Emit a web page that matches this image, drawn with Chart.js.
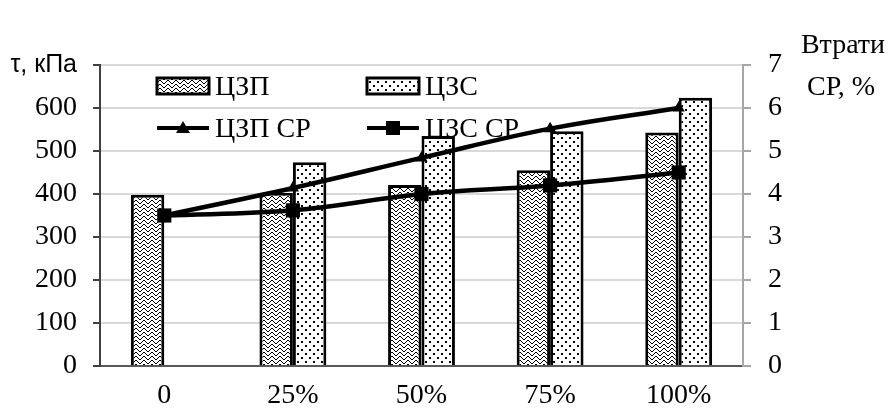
<!DOCTYPE html>
<html>
<head>
<meta charset="utf-8">
<script src="https://cdn.jsdelivr.net/npm/chart.js@4.4.0/dist/chart.umd.min.js"></script>
<style>
  html, body { margin: 0; padding: 0; background: #fff; }
  #wrap { width: 892px; height: 409px; }
</style>
</head>
<body>
<div id="wrap"><canvas id="chart" width="892" height="409"></canvas></div>
<script>
// Chart data
const categories = ['0', '25%', '50%', '75%', '100%'];
const czpShear = [398, 403, 421, 455, 543];      // ЦЗП, кПа
const czsShear = [null, 474, 535, 546, 624];     // ЦЗС, кПа
const czpLoss = [3.5, 4.14, 4.84, 5.52, 6.0];    // ЦЗП СР, %
const czsLoss = [3.5, 3.62, 4.0, 4.2, 4.5];      // ЦЗС СР, %
const leftTicks = [0, 100, 200, 300, 400, 500, 600, 700];
const rightTicks = [0, 1, 2, 3, 4, 5, 6, 7];

const serif = 'Liberation Serif';

// Fill patterns for the bars
function zigzagPattern() {
  const c = document.createElement('canvas');
  c.width = 8; c.height = 8;
  const g = c.getContext('2d');
  g.fillStyle = '#fff';
  g.fillRect(0, 0, 8, 8);
  g.fillStyle = '#000';
  for (let x = 0; x < 8; x++) {
    const y = x < 4 ? x : 7 - x;
    g.fillRect(x, y, 1, 1);
    g.fillRect(x, (y + 4) % 8, 1, 1);
  }
  return g.createPattern(c, 'repeat');
}

function dotPattern() {
  const c = document.createElement('canvas');
  c.width = 8; c.height = 8;
  const g = c.getContext('2d');
  g.fillStyle = '#fff';
  g.fillRect(0, 0, 8, 8);
  g.fillStyle = '#000';
  g.fillRect(1, 1, 2, 2);
  g.fillRect(5, 5, 2, 2);
  return g.createPattern(c, 'repeat');
}

const zigzag = zigzagPattern();
const dots = dotPattern();

// Legend drawn inside the plot area, two columns
const innerLegend = {
  id: 'innerLegend',
  beforeDatasetsDraw(chart) {
    const ctx = chart.ctx;
    ctx.save();
    ctx.font = '28px "' + serif + '"';
    ctx.fillStyle = '#000';
    ctx.textBaseline = 'middle';
    ctx.textAlign = 'left';

    const rows = [86, 128];
    const cols = [157, 367];

    // bar swatches
    [[zigzag, 0], [dots, 1]].forEach(([pat, i]) => {
      ctx.fillStyle = pat;
      ctx.fillRect(cols[i], rows[0] - 8, 52, 16);
      ctx.lineWidth = 3;
      ctx.strokeStyle = '#000';
      ctx.strokeRect(cols[i], rows[0] - 8, 52, 16);
    });
    ctx.fillStyle = '#000';
    ctx.fillText('ЦЗП', cols[0] + 58, rows[0] + 2);
    ctx.fillText('ЦЗС', cols[1] + 58, rows[0] + 2);

    // line swatches
    ctx.lineWidth = 4;
    cols.forEach((x, i) => {
      ctx.beginPath();
      ctx.moveTo(x, rows[1]);
      ctx.lineTo(x + 52, rows[1]);
      ctx.stroke();
      const cx = x + 26;
      if (i === 0) {
        ctx.beginPath();
        ctx.moveTo(cx, rows[1] - 7);
        ctx.lineTo(cx + 7, rows[1] + 5);
        ctx.lineTo(cx - 7, rows[1] + 5);
        ctx.closePath();
        ctx.fill();
      } else {
        ctx.fillRect(cx - 7, rows[1] - 7, 14, 14);
      }
    });
    ctx.fillText('ЦЗП СР', cols[0] + 58, rows[1] + 2);
    ctx.fillText('ЦЗС СР', cols[1] + 58, rows[1] + 2);
    ctx.restore();
  },
  afterDraw(chart) {
    // right axis title
    const ctx = chart.ctx;
    ctx.save();
    ctx.font = '28px "' + serif + '"';
    ctx.fillStyle = '#000';
    ctx.textAlign = 'center';
    ctx.textBaseline = 'alphabetic';
    ctx.fillText('Втрати', 843, 53);
    ctx.fillText('СР, %', 841, 95);
    ctx.restore();
  }
};

new Chart(document.getElementById('chart').getContext('2d'), {
  type: 'bar',
  data: {
    labels: categories,
    datasets: [
      {
        type: 'line',
        label: 'ЦЗП СР',
        data: czpLoss,
        yAxisID: 'y1',
        borderColor: '#000',
        backgroundColor: '#000',
        borderWidth: 4.5,
        tension: 0.4,
        pointStyle: 'triangle',
        pointRadius: 7,
        pointBorderWidth: 0,
        order: 0
      },
      {
        type: 'line',
        label: 'ЦЗС СР',
        data: czsLoss,
        yAxisID: 'y1',
        borderColor: '#000',
        backgroundColor: '#000',
        borderWidth: 4.5,
        tension: 0.4,
        pointStyle: 'rect',
        pointRadius: 10,
        pointBorderWidth: 0,
        order: 0
      },
      {
        label: 'ЦЗП',
        data: czpShear,
        yAxisID: 'y',
        backgroundColor: zigzag,
        borderColor: '#000',
        borderWidth: 3,
        order: 1
      },
      {
        label: 'ЦЗС',
        data: czsShear,
        yAxisID: 'y',
        backgroundColor: dots,
        borderColor: '#000',
        borderWidth: 3,
        order: 1
      }
    ]
  },
  options: {
    responsive: false,
    animation: false,
    layout: { padding: { top: 65, left: 0, right: 0, bottom: 0 } },
    datasets: {
      bar: { categoryPercentage: 0.52, barPercentage: 1 }
    },
    plugins: {
      legend: { display: false },
      tooltip: { enabled: false }
    },
    scales: {
      x: {
        grid: { display: false, drawTicks: false },
        border: { display: true, color: '#595959', width: 2 },
        ticks: {
          color: '#000',
          padding: 13,
          font: { family: serif, size: 28 }
        },
        afterFit(s) { s.height = 43; }
      },
      y: {
        position: 'left',
        min: 0,
        max: 700,
        afterBuildTicks(s) { s.ticks = leftTicks.map(v => ({ value: v })); },
        grid: {
          color: ctx => ctx.tick && ctx.tick.value === 0 ? 'rgba(0,0,0,0)' : '#d9d9d9',
          lineWidth: 2,
          tickColor: '#404040',
          tickLength: 7
        },
        border: { display: true, color: '#404040', width: 2 },
        ticks: {
          color: '#000',
          padding: 16,
          callback: v => v === 700 ? 'τ, кПа' : v,
          font: ctx => ctx.tick && ctx.tick.value === 700
            ? { family: 'Liberation Sans', size: 25 }
            : { family: serif, size: 28 }
        },
        afterFit(s) { s.width = 100; }
      },
      y1: {
        position: 'right',
        min: 0,
        max: 7,
        afterBuildTicks(s) { s.ticks = rightTicks.map(v => ({ value: v })); },
        grid: {
          drawOnChartArea: false,
          tickColor: '#a6a6a6',
          tickLength: 8,
          lineWidth: 2
        },
        border: { display: true, color: '#a6a6a6', width: 2 },
        ticks: {
          color: '#000',
          padding: 17,
          font: { family: serif, size: 28 }
        },
        afterFit(s) { s.width = 149; }
      }
    }
  },
  plugins: [innerLegend]
});
</script>
</body>
</html>
